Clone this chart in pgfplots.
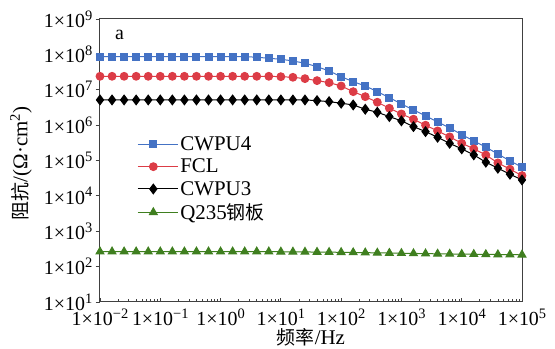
\documentclass[border=0pt]{standalone}
\usepackage{fontspec}
\setmainfont{Liberation Serif}
\newfontfamily\cjk{Noto Sans CJK SC}
\usepackage{pgfplots}
\usepackage{pgfplotstable}
\pgfplotsset{compat=1.18}
\definecolor{cblue}{HTML}{4472C4}
\definecolor{cred}{HTML}{DC3C46}
\definecolor{cgreen}{HTML}{3F7F1F}
\newcommand\sq[1]{\raisebox{0.36em}{\fontsize{14.5}{14.5}\selectfont #1}}
\pgfplotstableread{
f        cwpu4    fcl      cwpu3    q235
0.01     8.6e7    2.4e7    5.15e6   265
0.01585  8.6e7    2.4e7    5.15e6   265
0.02512  8.6e7    2.4e7    5.15e6   265
0.03981  8.6e7    2.4e7    5.15e6   265
0.06310  8.6e7    2.4e7    5.15e6   265
0.1      8.6e7    2.4e7    5.15e6   265
0.1585   8.6e7    2.4e7    5.15e6   265
0.2512   8.6e7    2.4e7    5.15e6   265
0.3981   8.6e7    2.4e7    5.15e6   265
0.6310   8.6e7    2.4e7    5.15e6   265
1        8.6e7    2.4e7    5.15e6   265
1.585    8.6e7    2.4e7    5.15e6   265
2.512    8.6e7    2.4e7    5.15e6   265
3.981    8.32e7   2.4e7    5.15e6   265
6.310    7.76e7   2.4e7    5.15e6   265
10       7.28e7   2.34e7   5.15e6   263
15.85    6.52e7   2.25e7   5.15e6   262
25.12    5.61e7   2.06e7   5.15e6   260
39.81    4.50e7   1.81e7   4.92e6   258
63.10    3.40e7   1.59e7   4.61e6   256
100      2.34e7   1.28e7   4.16e6   254
158.5    1.69e7   8.83e6   3.72e6   251
251.2    1.28e7   6.38e6   2.81e6   248
398.1    8.83e6   4.44e6   2.31e6   245
631.0    5.98e6   3.00e6   1.74e6   242
1000     3.97e6   2.07e6   1.32e6   239
1585     2.69e6   1.47e6   9.08e5   236
2512     1.82e6   9.93e5   6.55e5   233
3981     1.23e6   6.85e5   4.54e5   230
6310     8.34e5   4.65e5   3.06e5   228
10000    5.40e5   3.08e5   2.13e5   226
15849    3.58e5   2.14e5   1.44e5   224
25119    2.38e5   1.43e5   8.95e4   222
39811    1.53e5   8.55e4   6.05e4   220
63096    9.75e4   5.68e4   4.10e4   218
100000   6.47e4   3.74e4   2.83e4   216
}\datatable
\begin{document}
\begin{tikzpicture}
\begin{axis}[
  scale only axis,
  width=422bp, height=283bp,
  xmode=log, ymode=log,
  xmin=1e-2, xmax=1e5, ymin=1e1, ymax=1e9,
  xtick={1e-2,1e-1,1e0,1e1,1e2,1e3,1e4,1e5},
  xticklabels={1×10\sq{−2},1×10\sq{−1},1×10\sq{0},1×10\sq{1},1×10\sq{2},1×10\sq{3},1×10\sq{4},1×10\sq{5}},
  ytick={1e1,1e2,1e3,1e4,1e5,1e6,1e7,1e8,1e9},
  yticklabels={1×10\sq{1},1×10\sq{2},1×10\sq{3},1×10\sq{4},1×10\sq{5},1×10\sq{6},1×10\sq{7},1×10\sq{8},1×10\sq{9}},
  yminorticks=false,
  tick pos=left,
  xtick align=inside, ytick align=outside,
  major tick length=4.5bp, minor tick length=3bp,
  every tick/.append style={black!75, line width=0.9bp},
  axis line style={black!75, line width=1bp},
  tick label style={font=\fontsize{20}{22}\selectfont},
  x tick label style={inner sep=0pt, yshift=-7bp},
  y tick label style={inner sep=3bp},
  xlabel={{\fontsize{19}{21}\selectfont\cjk 频率}/Hz},
  ylabel={{\fontsize{19}{21}\selectfont\cjk 阻抗}/(Ω·cm\textsuperscript{2})},
  label style={font=\fontsize{21}{23}\selectfont},
  xlabel style={at={(axis description cs:0.5,0)}, anchor=base, yshift=-42bp},
  ylabel style={at={(axis description cs:-0.1872,0.49)}, anchor=center},
  legend style={draw=none, fill=none, at={(0.088,0.592)}, anchor=north west,
    font=\fontsize{21}{23}\selectfont, row sep=3bp, inner sep=0pt},
  legend cell align=left,
  legend image code/.code={\path (0bp,0bp) -- (40bp,0bp);\draw[mark repeat=2,mark phase=2] plot coordinates {(0bp,0bp) (15.5bp,0bp) (31bp,0bp)};},
]
\addplot[cblue, line width=1bp, mark=square*, mark size=3.5bp, mark options={solid}] table[x=f,y=cwpu4]{\datatable};
\addlegendentry{CWPU4}
\addplot[cred, line width=1bp, mark=*, mark size=3.9bp] table[x=f,y=fcl]{\datatable};
\addlegendentry{FCL}
\addplot[black, line width=1bp, mark=diamond*, mark size=4.8bp] table[x=f,y=cwpu3]{\datatable};
\addlegendentry{CWPU3}
\addplot[cgreen, line width=1bp, mark=triangle*, mark size=4.5bp] table[x=f,y=q235]{\datatable};
\addlegendentry{Q235{\fontsize{19}{21}\selectfont\cjk 钢板}}
\node[anchor=base west, font=\fontsize{20}{22}\selectfont, inner sep=0pt] at (rel axis cs:0.0355,0.929) {a};
\coordinate (bl) at (rel axis cs:0,0);
\coordinate (tr) at (rel axis cs:1,1);
\end{axis}
\pgfresetboundingbox
\path ([shift={(-100bp,-47bp)}]bl) rectangle ([shift={(33bp,19bp)}]tr);
\end{tikzpicture}
\end{document}
